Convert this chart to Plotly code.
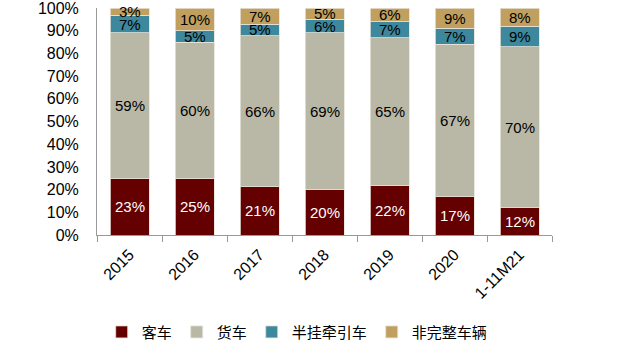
import plotly.graph_objects as go

categories = ["2015", "2016", "2017", "2018", "2019", "2020", "1-11M21"]
bus = [23, 25, 21, 20, 22, 17, 12]
truck = [59, 60, 66, 69, 65, 67, 70]
tractor = [7, 5, 5, 6, 7, 7, 9]
incomplete = [3, 10, 7, 5, 6, 9, 8]
y_ticks = list(range(0, 101, 10))

series = [
    ("客车", bus, "#640000", "white"),
    ("货车", truck, "#B9B8A6", "black"),
    ("半挂牵引车", tractor, "#3E889D", "black"),
    ("非完整车辆", incomplete, "#C19F5F", "black"),
]

FONT = "Arial, 'Liberation Sans', 'Noto Sans CJK SC', sans-serif"

fig = go.Figure()
for name, vals, color, tcolor in series:
    fig.add_trace(go.Bar(
        name=name, x=categories, y=vals,
        marker=dict(color=color, line=dict(color="#E6E2D8", width=0.8)),
        hoverinfo="skip",
    ))

# data labels centred in each (normalised) segment; x given as category index
totals = [sum(s[1][i] for s in series) for i in range(len(categories))]
base = [0.0] * len(categories)
for name, vals, color, tcolor in series:
    for i, v in enumerate(vals):
        mid = (base[i] + v / 2) / totals[i] * 100
        fig.add_annotation(x=i, y=mid, text=f"{v}%", showarrow=False,
                           font=dict(color=tcolor, size=15, family=FONT),
                           xref="x", yref="y", yanchor="middle")
        base[i] += v

fig.update_layout(
    barmode="stack", barnorm="percent", bargap=0.4,
    width=622, height=357,
    margin=dict(l=97, r=70, t=8, b=118),
    paper_bgcolor="white", plot_bgcolor="white",
    font=dict(family=FONT, color="black", size=14),
    legend=dict(orientation="h", x=0.44, xanchor="center", y=-0.428, yanchor="middle",
                font=dict(size=15), itemwidth=30, traceorder="normal"),
    showlegend=True,
)
fig.update_xaxes(type="category", categoryorder="array", categoryarray=categories,
                 range=[-0.5, len(categories) - 0.5],
                 showline=True, linecolor="#999999", linewidth=1,
                 ticks="outside", tickson="boundaries", ticklen=6, tickcolor="#999999",
                 tickangle=-45, tickfont=dict(size=16), ticklabelstandoff=3,
                 showgrid=False, automargin=False)
fig.update_yaxes(range=[0, 100], tickvals=y_ticks, ticktext=[f"{v}%" for v in y_ticks],
                 showline=True, linecolor="#999999", linewidth=1, showgrid=False,
                 zeroline=False, tickfont=dict(size=16), ticks="", ticklabelstandoff=14,
                 ticklabeloverflow="allow", automargin=False)

fig.write_html("out.html", config={"displayModeBar": False},
               post_script="document.body.style.margin='0';")
